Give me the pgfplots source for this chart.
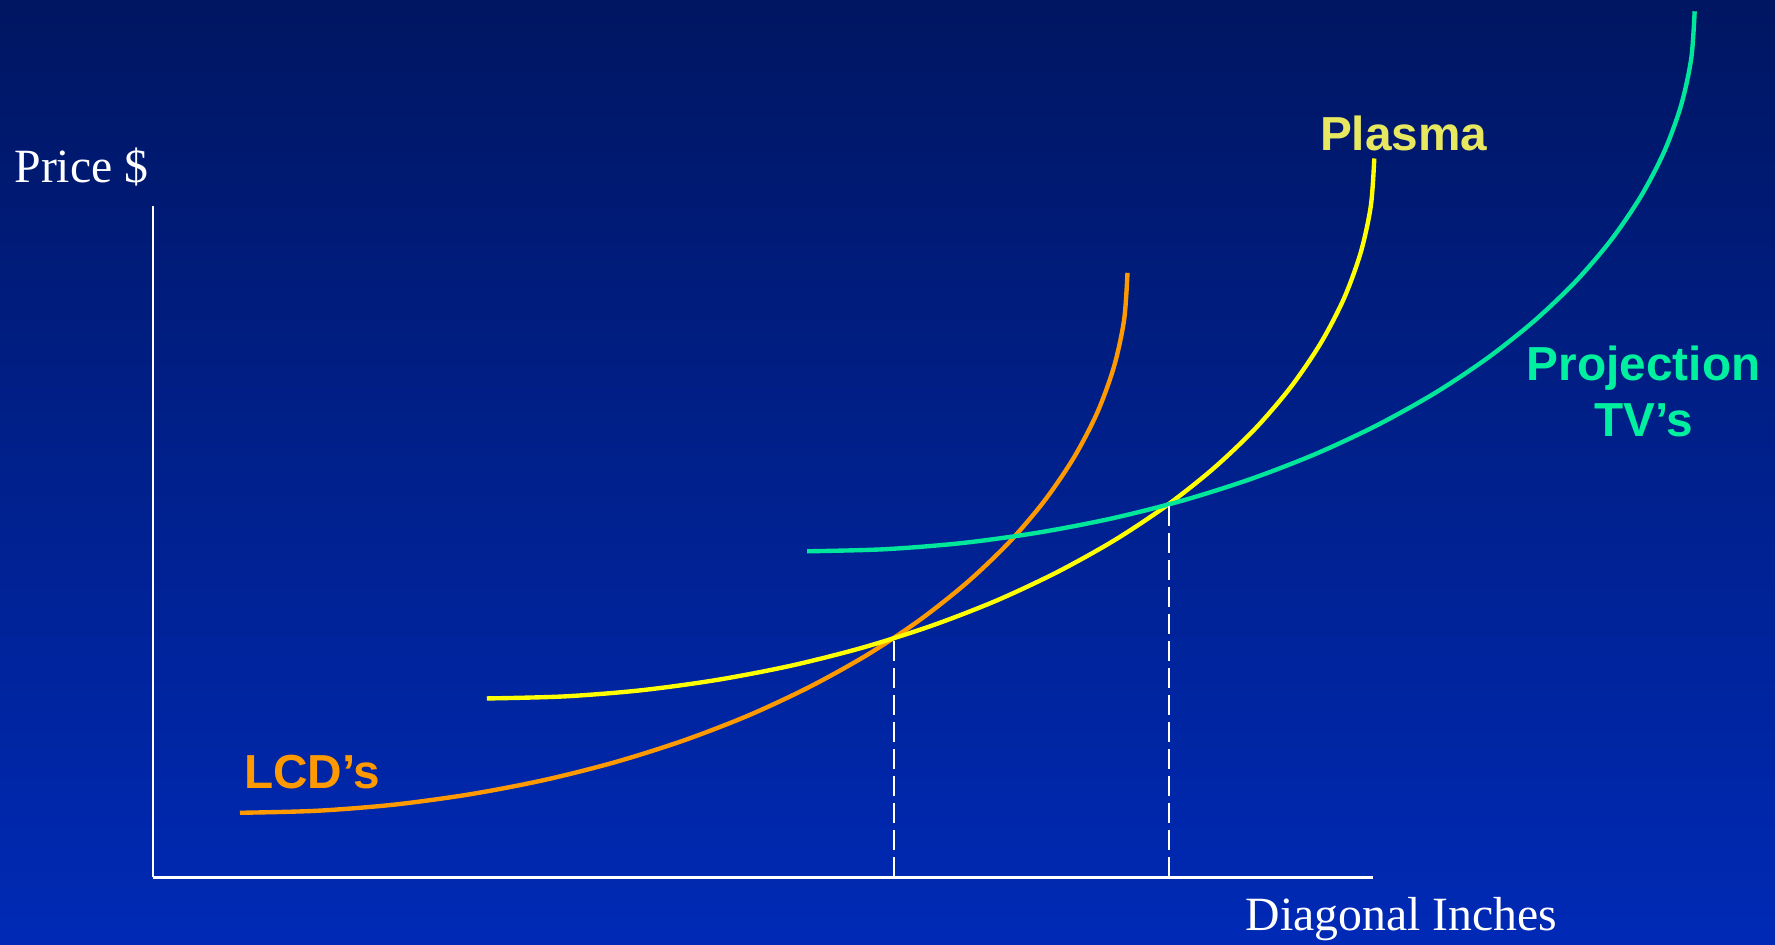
\documentclass[border=0pt]{standalone}
\usepackage{fontspec}
\setmainfont{Liberation Serif}
\newfontfamily\arial{Liberation Sans}
\usepackage{pgfplots}
\pgfplotsset{compat=1.18}
\usetikzlibrary{backgrounds}
\definecolor{bgtop}{RGB}{0,22,98}
\definecolor{bgbot}{RGB}{0,42,182}
\definecolor{lcd}{RGB}{255,153,0}
\definecolor{plasma}{RGB}{255,255,0}
\definecolor{plasmatxt}{RGB}{232,232,96}
\definecolor{proj}{RGB}{0,230,155}
\definecolor{projtxt}{RGB}{0,240,160}

\begin{document}
\begin{tikzpicture}
\begin{axis}[
    scale only axis,
    width=10.78cm, height=5.93cm,
    xmin=135, xmax=1213, ymin=59, ymax=652,
    axis lines=left,
    axis line style={-, white, line width=0.6pt},
    xtick=\empty, ytick=\empty,
    clip=false,
    every axis plot/.append style={line width=1.1pt, smooth, no marks},
]
\coordinate (bl) at (axis cs:0,0);
\coordinate (tr) at (axis cs:1568,834);

% LCD's
\addplot[lcd] coordinates {
    (212,116) (280.3,117.8) (348.1,123.2) (414.9,132.3) (480.1,144.8)
    (543.3,160.7) (604.0,179.9) (661.7,202.2) (715.9,227.6) (766.4,255.7)
    (812.6,286.4) (854.2,319.4) (891.0,354.5) (922.5,391.4) (948.7,429.9)
    (969.3,469.5) (984.1,510.2) (993.0,551.4) (996,593)
};
% Plasma
\addplot[plasma] coordinates {
    (430,217) (498.3,218.8) (566.1,224.2) (632.9,233.3) (698.1,245.8)
    (761.3,261.7) (822.0,280.9) (879.7,303.2) (933.9,328.6) (984.4,356.7)
    (1030.6,387.4) (1072.2,420.4) (1109.0,455.5) (1140.5,492.4) (1166.7,530.9)
    (1187.3,570.5) (1202.1,611.2) (1211.0,652.4) (1214,694)
};
% Projection TV's
\addplot[proj] coordinates {
    (713,347) (781.3,348.8) (849.1,354.2) (915.9,363.3) (981.1,375.8)
    (1044.3,391.7) (1105.0,410.9) (1162.7,433.2) (1216.9,458.6) (1267.4,486.7)
    (1313.6,517.4) (1355.2,550.4) (1392.0,585.5) (1423.5,622.4) (1449.7,660.9)
    (1470.3,700.5) (1485.1,741.2) (1494.0,782.4) (1497,824)
};

% dashed drops to the x axis
\addplot[white, line width=0.5pt, sharp plot, dash pattern=on 5pt off 1.8pt] coordinates {(790,59) (790,271)};
\addplot[white, line width=0.5pt, sharp plot, dash pattern=on 5pt off 1.8pt] coordinates {(1033,59) (1033,389)};

\node[white, font=\fontsize{12}{14}\selectfont] at (axis cs:72,686) {Price \$};
\node[white, font=\fontsize{12}{14}\selectfont] at (axis cs:1238,22) {Diagonal Inches};
\node[lcd, font=\arial\bfseries\fontsize{12}{14}\selectfont] at (axis cs:276,152) {LCD’s};
\node[plasmatxt, font=\arial\bfseries\fontsize{12}{14}\selectfont] at (axis cs:1240,716) {Plasma};
\node[projtxt, font=\arial\bfseries\fontsize{12}{14}\selectfont, align=center] at (axis cs:1452,488) {Projection\\TV’s};
\end{axis}
\begin{scope}[on background layer]
\shade[top color=bgtop, bottom color=bgbot] (bl) rectangle (tr);
\end{scope}
\pgfresetboundingbox
\path[use as bounding box] (bl) rectangle (tr);
\end{tikzpicture}
\end{document}
